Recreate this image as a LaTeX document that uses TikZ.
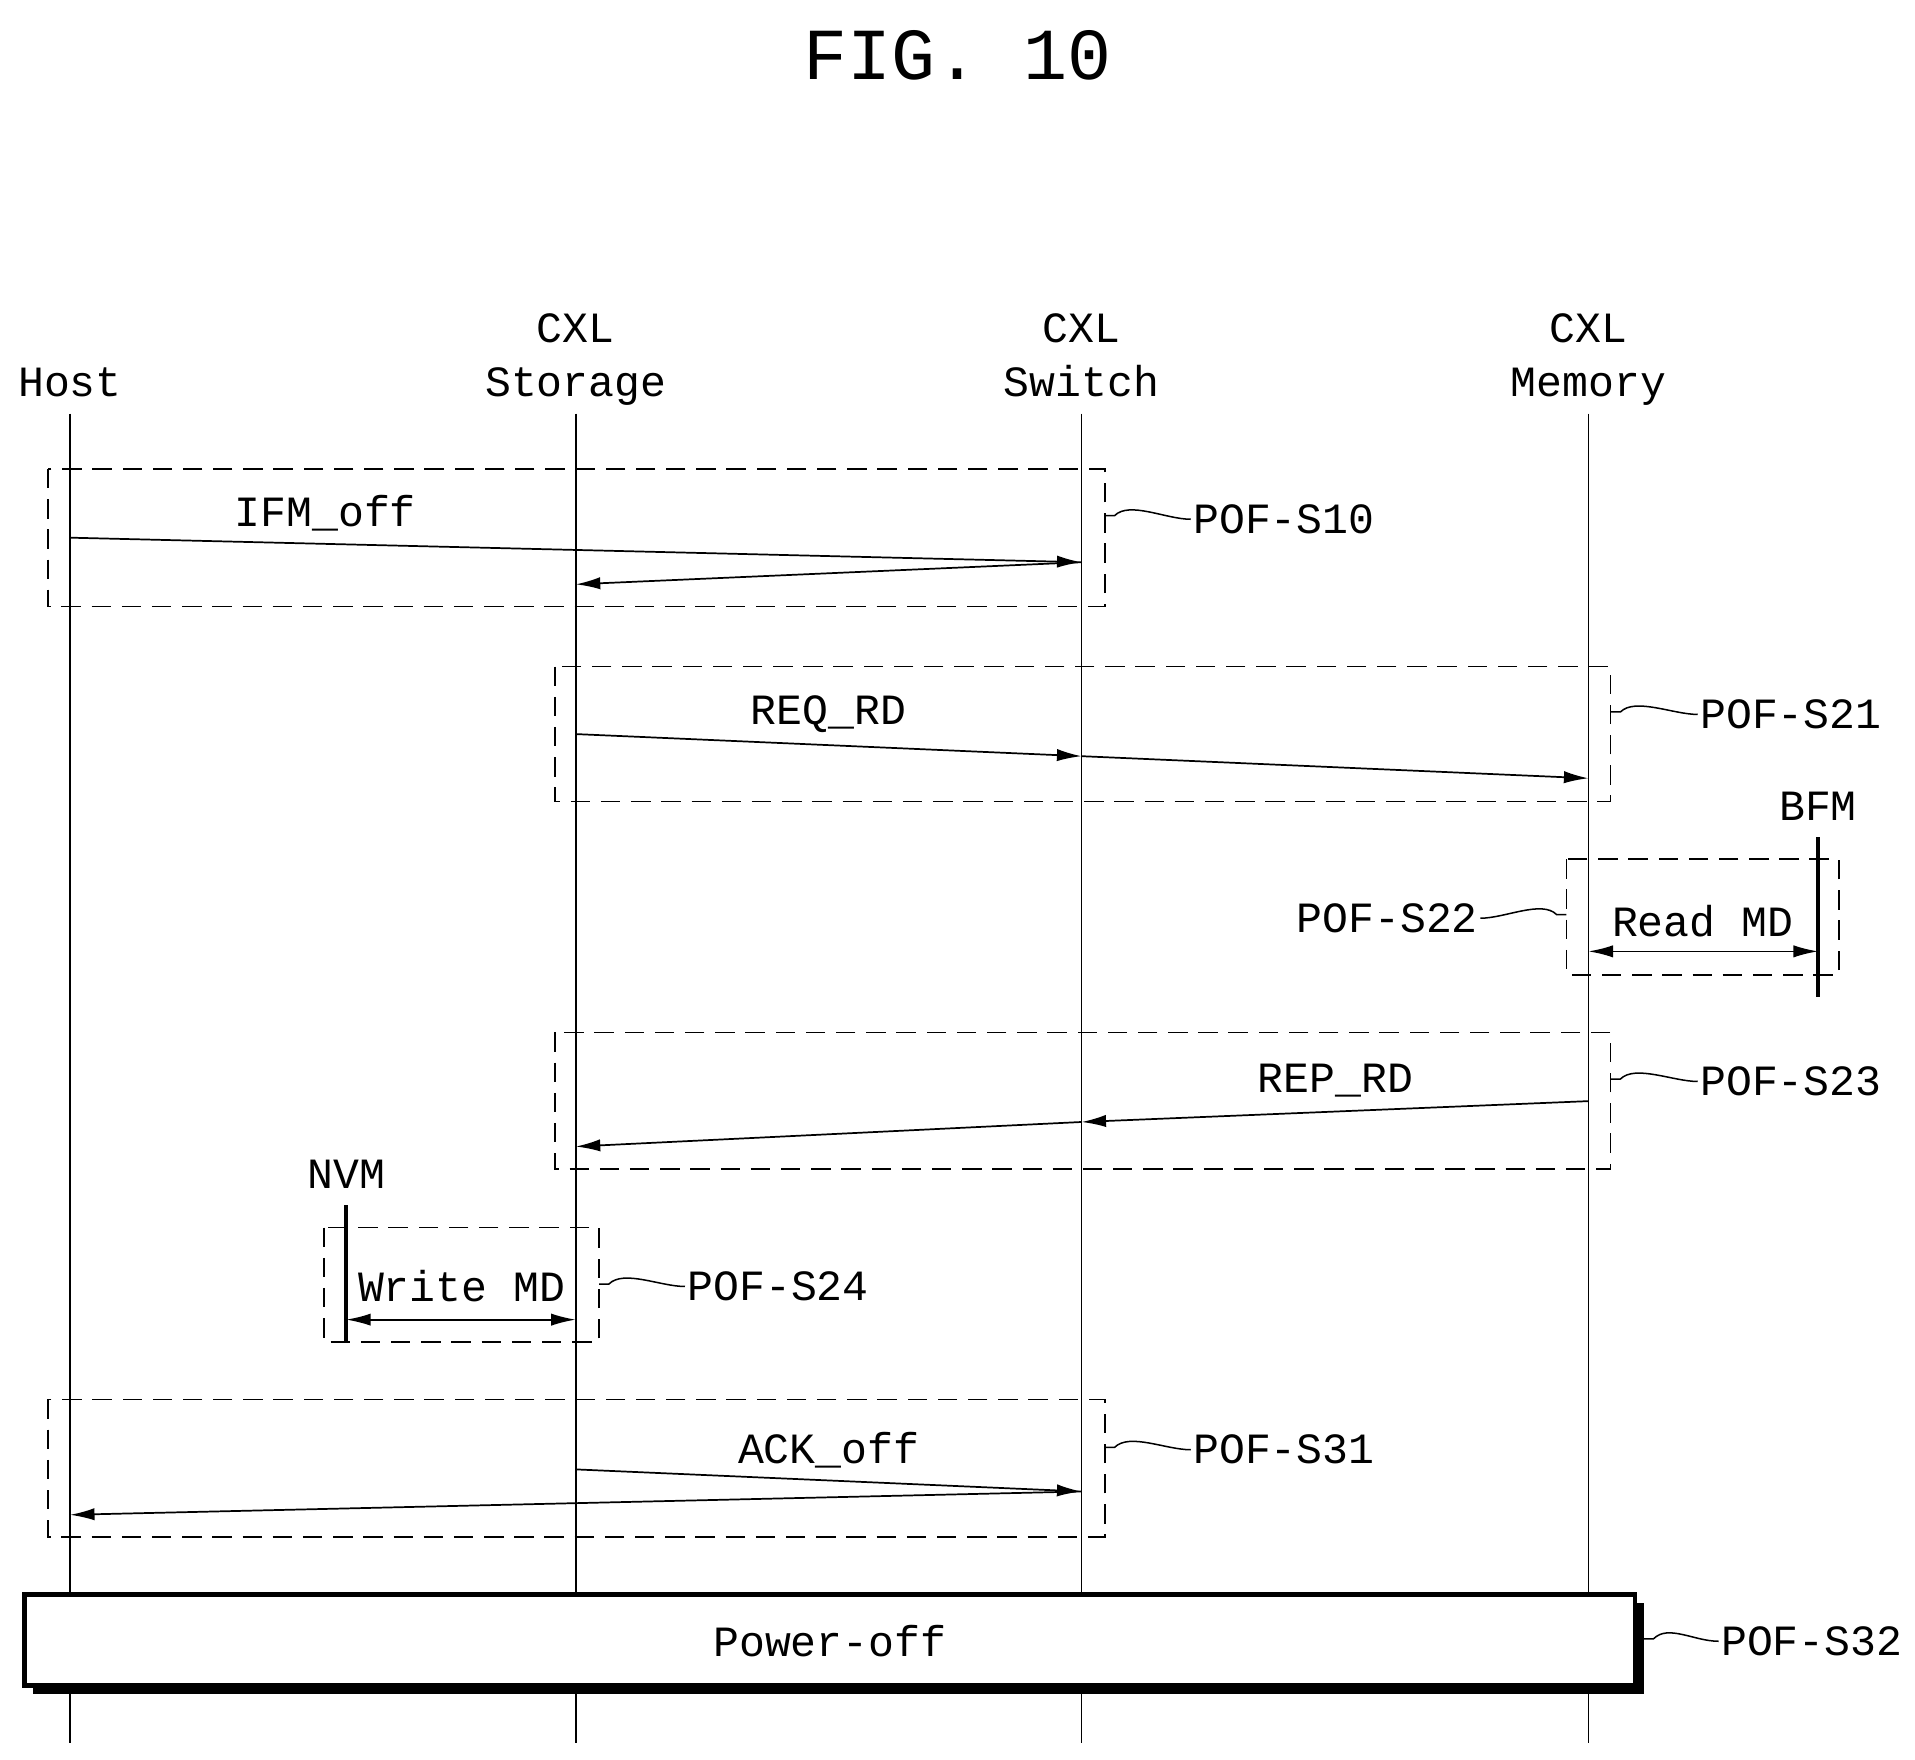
\documentclass[tikz,border=0pt]{standalone}
\usepackage{fontspec}
\setmainfont{Liberation Mono}
\usetikzlibrary{arrows.meta, positioning}

\begin{document}
\begin{tikzpicture}[
x=0.02cm, y=-0.02cm,
lbl/.style={font=\fontsize{20}{25}\selectfont, inner sep=1pt},
phase/.style={draw, dashed, line width=0.8pt, dash pattern=on 9pt off 5pt},
msg/.style={-{Latex[length=4mm,width=2mm]}, line width=0.8pt},
both/.style={{Latex[length=4mm,width=2mm]}-{Latex[length=4mm,width=2mm]}, line width=0.8pt},
life/.style={line width=0.8pt},
wave/.style={line width=0.7pt} ]

\useasboundingbox (0,0) rectangle (1560,1433);

\node[font=\fontsize{34}{40}\selectfont] (title) at (780,45) {FIG. 10};

% lifelines
\node[lbl, align=center, anchor=base] (host) at (57,323) {Host};
\node[lbl, align=center, anchor=base] (stor) at (469,323) {CXL\\Storage};
\node[lbl, align=center, anchor=base] (swit) at (881,323) {CXL\\Switch};
\node[lbl, align=center, anchor=base] (memo) at (1294,323) {CXL\\Memory};
\foreach \n/\x in {host/57, stor/469, swit/881, memo/1294} {
  \coordinate (\n-top) at (\x,337);
  \coordinate (\n-bot) at (\x,1420);
  \draw[life] (\n-top) -- (\n-bot);
}

% POF-S10
\draw[phase] (39,382) rectangle (900,494);
\coordinate (a1) at (57,438); \coordinate (a2) at (881,458); \coordinate (a3) at (469,476);
\draw[msg] (a1) -- (a2);
\draw[msg] (a2) -- (a3);
\node[lbl] (ifm) at (265,418) {IFM\_off};
\node[lbl, anchor=west] (s10) at (970,423) {POF-S10};
\coordinate (e10) at (900,420);
\draw[wave] (e10) -- ++(8,0) .. controls +(12,-12) and +(-20,0) .. (s10.west);

% POF-S21
\draw[phase] (452,543) rectangle (1312,653);
\coordinate (b1) at (469,598); \coordinate (b2) at (881,616); \coordinate (b3) at (1294,634);
\draw[msg] (b1) -- (b2);
\draw[msg] (b2) -- (b3);
\node[lbl] (reqrd) at (675,582) {REQ\_RD};
\node[lbl, anchor=west] (s21) at (1383,582) {POF-S21};
\coordinate (e21) at (1312,580);
\draw[wave] (e21) -- ++(8,0) .. controls +(12,-12) and +(-20,0) .. (s21.west);

% POF-S22
\node[lbl] (bfm) at (1481,657) {BFM};
\coordinate (bfm-top) at (1481,682); \coordinate (bfm-bot) at (1481,812);
\draw[line width=1.6pt] (bfm-top) -- (bfm-bot);
\draw[phase] (1276,700) rectangle (1498,794);
\node[lbl] (readmd) at (1387,750) {Read MD};
\coordinate (c1) at (1294,775); \coordinate (c2) at (1481,775);
\draw[both] (c1) -- (c2);
\node[lbl, anchor=east] (s22) at (1206,748) {POF-S22};
\coordinate (e22) at (1276,745);
\draw[wave] (e22) -- ++(-8,0) .. controls +(-12,-12) and +(20,0) .. (s22.east);

% POF-S23
\draw[phase] (452,841) rectangle (1312,952);
\coordinate (d1) at (1294,897); \coordinate (d2) at (881,914); \coordinate (d3) at (469,934);
\draw[msg] (d1) -- (d2);
\draw[msg] (d2) -- (d3);
\node[lbl] (reprd) at (1088,880) {REP\_RD};
\node[lbl, anchor=west] (s23) at (1383,881) {POF-S23};
\coordinate (e23) at (1312,879);
\draw[wave] (e23) -- ++(8,0) .. controls +(12,-12) and +(-20,0) .. (s23.west);

% POF-S24
\node[lbl] (nvm) at (282,957) {NVM};
\coordinate (nvm-top) at (282,982); \coordinate (nvm-bot) at (282,1093);
\draw[line width=1.6pt] (nvm-top) -- (nvm-bot);
\draw[phase] (264,1000) rectangle (488,1093);
\node[lbl] (writemd) at (376,1048) {Write MD};
\coordinate (f1) at (282,1075); \coordinate (f2) at (469,1075);
\draw[both] (f1) -- (f2);
\node[lbl, anchor=west] (s24) at (558,1048) {POF-S24};
\coordinate (e24) at (488,1046);
\draw[wave] (e24) -- ++(8,0) .. controls +(12,-12) and +(-20,0) .. (s24.west);

% POF-S31
\draw[phase] (39,1140) rectangle (900,1252);
\coordinate (g1) at (469,1197); \coordinate (g2) at (881,1215); \coordinate (g3) at (57,1234);
\draw[msg] (g1) -- (g2);
\draw[msg] (g2) -- (g3);
\node[lbl] (ackoff) at (675,1181) {ACK\_off};
\node[lbl, anchor=west] (s31) at (970,1181) {POF-S31};
\coordinate (e31) at (900,1179);
\draw[wave] (e31) -- ++(8,0) .. controls +(12,-12) and +(-20,0) .. (s31.west);

% POF-S32
\fill (27,1306) rectangle (1339,1380);
\draw[fill=white, line width=2pt] (20,1299) rectangle (1332,1373);
\node[lbl] (poff) at (676,1337) {Power-off};
\node[lbl, anchor=west] (s32) at (1400,1337) {POF-S32};
\coordinate (e32) at (1339,1335);
\draw[wave] (e32) -- ++(8,0) .. controls +(12,-12) and +(-20,0) .. (s32.west);

\end{tikzpicture}
\end{document}
